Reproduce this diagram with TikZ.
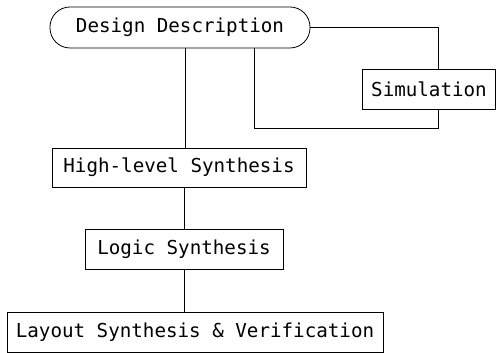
\documentclass[tikz,border=0pt]{standalone}
\usepackage{fontspec}
\setmonofont{DejaVu Sans Mono}
\begin{document}
\begin{tikzpicture}[x=1pt,y=1pt,
  box/.style={draw, line width=0.8pt, inner sep=0pt, font=\ttfamily\fontsize{19.2}{22}\selectfont},
  link/.style={draw, line width=0.8pt}]
\useasboundingbox (0,0) rectangle (496,353);
\node[box, rounded corners=20pt, minimum width=260pt, minimum height=41pt] (dd) at (180,325.5) {Design Description};
\node[box, minimum width=133pt, minimum height=40pt] (sim) at (429,264) {Simulation};
\node[box, minimum width=254pt, minimum height=39pt] (hls) at (179,185.5) {High-level Synthesis};
\node[box, minimum width=198pt, minimum height=40pt] (ls) at (184,104) {Logic Synthesis};
\node[box, minimum width=376pt, minimum height=40pt] (lay) at (195,21) {Layout Synthesis \& Verification};
\coordinate (xa) at (185,0);
\coordinate (xb) at (184,0);
\coordinate (xs) at (438,0);
\coordinate (xr) at (254,0);
\coordinate (yr) at (0,225);
\draw[link] (dd.east) -| (sim.north -| xs);
\draw[link] (sim.south -| xs) |- (yr -| xr) -- (dd.south -| xr);
\draw[link] (dd.south -| xa) -- (hls.north -| xa);
\draw[link] (hls.south -| xb) -- (ls.north -| xb);
\draw[link] (ls.south -| xb) -- (lay.north -| xb);
\end{tikzpicture}
\end{document}
